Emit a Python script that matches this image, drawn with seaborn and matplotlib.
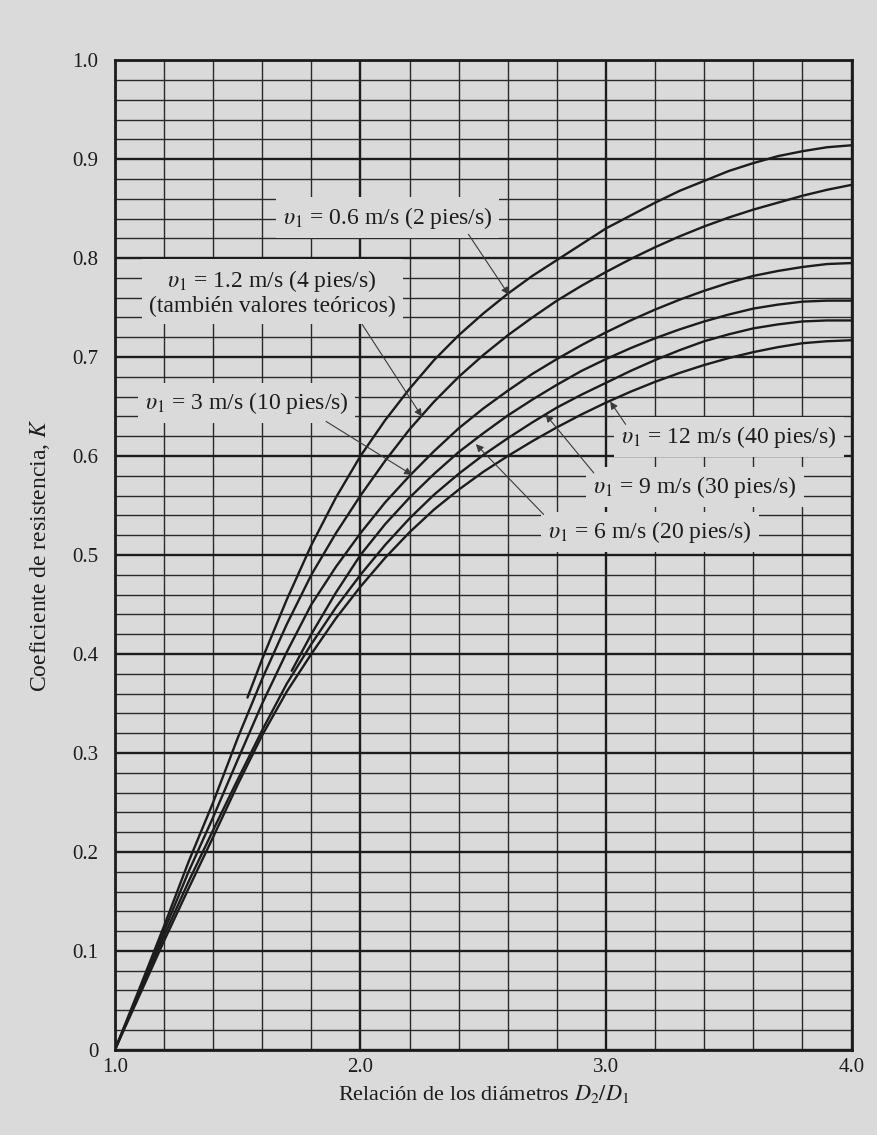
import numpy as np
import pandas as pd
import matplotlib
matplotlib.use("Agg")
import matplotlib.pyplot as plt
import seaborn as sns

# Diameter ratio D2/D1, read every 0.1
D_FULL = [1.0, 1.1, 1.2, 1.3, 1.4, 1.5, 1.6, 1.7, 1.8, 1.9, 2.0,
          2.1, 2.2, 2.3, 2.4, 2.5, 2.6, 2.7, 2.8, 2.9, 3.0,
          3.1, 3.2, 3.3, 3.4, 3.5, 3.6, 3.7, 3.8, 3.9, 4.0]
# the 0.6 m/s and 6 m/s curves start part way up the chart
D_V06 = [1.54, 1.6, 1.7, 1.8, 1.9, 2.0, 2.1, 2.2, 2.3, 2.4, 2.5, 2.6, 2.7, 2.8, 2.9, 3.0,
         3.1, 3.2, 3.3, 3.4, 3.5, 3.6, 3.7, 3.8, 3.9, 4.0]
D_V6 = [1.72, 1.8, 1.9, 2.0, 2.1, 2.2, 2.3, 2.4, 2.5, 2.6, 2.7, 2.8, 2.9, 3.0,
        3.1, 3.2, 3.3, 3.4, 3.5, 3.6, 3.7, 3.8, 3.9, 4.0]

# resistance coefficient K for each inlet velocity
K_V06 = [0.356, 0.395, 0.455, 0.51, 0.558, 0.60, 0.636, 0.668, 0.697, 0.722, 0.744, 0.764,
         0.782, 0.798, 0.814, 0.83, 0.843, 0.856, 0.868, 0.878, 0.888, 0.896, 0.903, 0.908,
         0.912, 0.914]
K_V12 = [0.0, 0.062, 0.125, 0.19, 0.25, 0.315, 0.375, 0.43, 0.48, 0.522, 0.56,
         0.595, 0.627, 0.655, 0.68, 0.702, 0.722, 0.74, 0.757, 0.772, 0.786,
         0.799, 0.811, 0.822, 0.832, 0.841, 0.849, 0.856, 0.863, 0.869, 0.874]
K_V3 = [0.0, 0.06, 0.12, 0.18, 0.235, 0.293, 0.35, 0.402, 0.45, 0.488, 0.522,
        0.553, 0.58, 0.605, 0.628, 0.648, 0.666, 0.683, 0.698, 0.712, 0.725,
        0.737, 0.748, 0.758, 0.767, 0.775, 0.782, 0.787, 0.791, 0.794, 0.795]
K_V6 = [0.383, 0.42, 0.462, 0.50, 0.531, 0.558, 0.582, 0.604, 0.623, 0.641, 0.657, 0.672,
        0.686, 0.698, 0.709, 0.719, 0.728, 0.736, 0.743, 0.749, 0.753, 0.756, 0.757, 0.757]
K_V9 = [0.0, 0.058, 0.115, 0.17, 0.222, 0.273, 0.323, 0.37, 0.41, 0.447, 0.48,
        0.51, 0.537, 0.561, 0.582, 0.601, 0.618, 0.634, 0.649, 0.662, 0.674,
        0.686, 0.697, 0.707, 0.716, 0.723, 0.729, 0.733, 0.736, 0.737, 0.737]
K_V12MS = [0.0, 0.055, 0.11, 0.163, 0.215, 0.268, 0.318, 0.362, 0.40, 0.436, 0.468,
           0.497, 0.523, 0.546, 0.566, 0.584, 0.60, 0.615, 0.629, 0.642, 0.654,
           0.665, 0.675, 0.684, 0.692, 0.699, 0.705, 0.71, 0.714, 0.716, 0.717]

X_TICKS = [1.0, 2.0, 3.0, 4.0]
X_TICK_LABELS = ["1.0", "2.0", "3.0", "4.0"]
Y_TICKS = [0.0, 0.1, 0.2, 0.3, 0.4, 0.5, 0.6, 0.7, 0.8, 0.9, 1.0]
Y_TICK_LABELS = ["0", "0.1", "0.2", "0.3", "0.4", "0.5", "0.6", "0.7", "0.8", "0.9", "1.0"]

BG = "#dadada"
INK = "#1c1c1c"

sns.set_style("white")
plt.rcParams["font.family"] = ["Liberation Serif", "DejaVu Serif"]
plt.rcParams["mathtext.fontset"] = "stix"

curves = [
    ("0.6", D_V06, K_V06),
    ("1.2", D_FULL, K_V12),
    ("3", D_FULL, K_V3),
    ("6", D_V6, K_V6),
    ("9", D_FULL, K_V9),
    ("12", D_FULL, K_V12MS),
]
df = pd.concat(
    [pd.DataFrame({"D": d, "K": k, "v": name}) for name, d, k in curves],
    ignore_index=True,
)

fig = plt.figure(figsize=(8.77, 11.35), dpi=100, facecolor=BG)
ax = fig.add_axes([0.131, 0.075, 0.840, 0.872], facecolor=BG)

sns.lineplot(data=df, x="D", y="K", hue="v", palette=[INK] * len(curves),
             estimator=None, sort=False, legend=False, lw=1.7, ax=ax, zorder=3)

ax.set_xlim(1.0, 4.0)
ax.set_ylim(0.0, 1.0)
ax.set_xticks(X_TICKS)
ax.set_xticklabels(X_TICK_LABELS)
ax.set_yticks(Y_TICKS)
ax.set_yticklabels(Y_TICK_LABELS)
ax.set_xticks(np.arange(1.0, 4.01, 0.2), minor=True)
ax.set_yticks(np.arange(0.0, 1.001, 0.02), minor=True)
ax.grid(which="major", color=INK, lw=1.7, zorder=1)
ax.grid(which="minor", color="#2a2a2a", lw=1.0, zorder=1)
ax.tick_params(which="both", length=0)
ax.tick_params(axis="y", pad=12, labelsize=15, colors=INK)
ax.tick_params(axis="x", pad=6, labelsize=15, colors=INK)
for s in ax.spines.values():
    s.set_color(INK)
    s.set_linewidth(2.0)
    s.set_zorder(6)

ax.set_xlabel("Relación de los diámetros $D_2/D_1$", fontsize=16, color=INK)
ax.set_ylabel("Coeficiente de resistencia, $K$", fontsize=17, color=INK)
ax.xaxis.set_label_coords(0.5, -0.033)
ax.yaxis.set_label_coords(-0.085, 0.5)

box = dict(boxstyle="square,pad=0.3", fc=BG, ec="none")
labels = [
    (r"$\upsilon_1$ = 0.6 m/s (2 pies/s)", 2.11, 0.841),
    (r"$\upsilon_1$ = 1.2 m/s (4 pies/s)" + "\n(también valores teóricos)", 1.64, 0.765),
    (r"$\upsilon_1$ = 3 m/s (10 pies/s)", 1.536, 0.654),
    (r"$\upsilon_1$ = 12 m/s (40 pies/s)", 3.50, 0.619),
    (r"$\upsilon_1$ = 9 m/s (30 pies/s)", 3.363, 0.569),
    (r"$\upsilon_1$ = 6 m/s (20 pies/s)", 3.18, 0.523),
]
for txt, x, y in labels:
    ax.text(x, y, txt, ha="center", va="center", fontsize=17, color=INK,
            bbox=box, zorder=5, linespacing=1.1)

# leader arrows (start, tip)
arrows = [
    ((2.44, 0.824), (2.604, 0.763)),
    ((2.007, 0.733), (2.25, 0.640)),
    ((1.86, 0.635), (2.21, 0.581)),
    ((3.08, 0.632), (3.017, 0.655)),
    ((2.95, 0.583), (2.754, 0.642)),
    ((2.746, 0.541), (2.47, 0.612)),
]
for start, tip in arrows:
    ax.annotate("", xy=tip, xytext=start, zorder=6,
                arrowprops=dict(arrowstyle="-|>", lw=0.8, color="#3a3a3a",
                                mutation_scale=11, shrinkA=0, shrinkB=0))

fig.savefig("out.png", dpi=100, facecolor=BG)
